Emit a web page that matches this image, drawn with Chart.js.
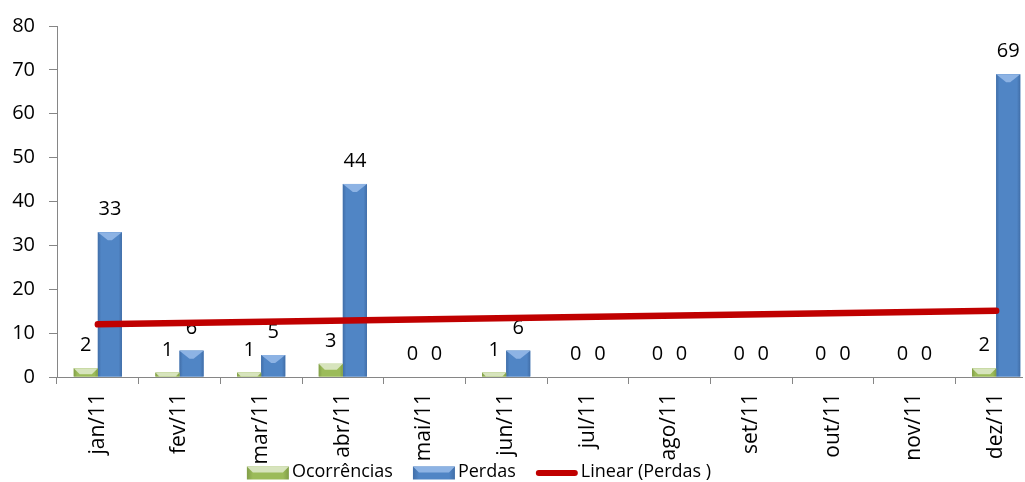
<!DOCTYPE html>
<html>
<head>
<meta charset="utf-8">
<script src="https://cdn.jsdelivr.net/npm/chart.js@4/dist/chart.umd.min.js"></script>
<style>
  html, body { margin: 0; padding: 0; background: #fff; overflow: hidden; }
  #wrap { width: 1023px; height: 482px; overflow: hidden; position: relative; }
</style>
</head>
<body>
<div id="wrap"><canvas id="c" width="1040" height="482"></canvas></div>
<script>
// Monthly occurrences and losses for 2011, with the linear trend of the losses
const months = ['jan/11', 'fev/11', 'mar/11', 'abr/11', 'mai/11', 'jun/11',
                'jul/11', 'ago/11', 'set/11', 'out/11', 'nov/11', 'dez/11'];
const ocorrencias = [2, 1, 1, 3, 0, 1, 0, 0, 0, 0, 0, 2];
const perdas = [33, 6, 5, 44, 0, 6, 0, 0, 0, 0, 0, 69];
// trend line end points (jan and dez)
const tendencia = [12.0, null, null, null, null, null, null, null, null, null, null, 15.1];
const yTicks = [0, 10, 20, 30, 40, 50, 60, 70, 80];

const FONT = "'Open Sans', 'DejaVu Sans', sans-serif";
const AXIS = '#868686';

// colours for the bevelled bar look
const shades = {
  'Ocorrências': { edge: '#819E48', face: '#9BBB59', light: '#D7E4BD', pointed: false },
  'Perdas':      { edge: '#416EA8', face: '#5085C5', light: '#8DB3E4', pointed: true }
};

function barFill(ctx, l, r, s) {
  const g = ctx.createLinearGradient(l, 0, r, 0);
  g.addColorStop(0, s.edge);
  g.addColorStop(0.14, s.face);
  g.addColorStop(0.86, s.face);
  g.addColorStop(1, s.edge);
  return g;
}

function drawBevel(ctx, l, r, top, base, s) {
  const h = base - top;
  if (h <= 0) return;
  const b = Math.min(s.pointed ? 8 : 6, h);
  ctx.fillStyle = s.light;
  ctx.beginPath();
  ctx.moveTo(l, top);
  ctx.lineTo(r, top);
  if (s.pointed) {
    ctx.lineTo((l + r) / 2 + 2, top + b);
    ctx.lineTo((l + r) / 2 - 2, top + b);
  } else {
    ctx.lineTo(r - b, top + b);
    ctx.lineTo(l + b, top + b);
  }
  ctx.closePath();
  ctx.fill();
}

// shading, bevel and value label for every bar
const bevelBars = {
  id: 'bevelBars',
  afterDatasetDraw(chart, args) {
    const ds = chart.data.datasets[args.index];
    const s = shades[ds.label];
    if (!s) return;
    const ctx = chart.ctx;
    ctx.save();
    args.meta.data.forEach((bar, i) => {
      const l = bar.x - bar.width / 2, r = bar.x + bar.width / 2;
      if (bar.base > bar.y) {
        ctx.fillStyle = barFill(ctx, l, r, s);
        ctx.fillRect(l, bar.y, r - l, bar.base - bar.y);
        drawBevel(ctx, l, r, bar.y, bar.base, s);
      }
      ctx.fillStyle = '#000';
      ctx.font = `20px ${FONT}`;
      ctx.textAlign = 'center';
      ctx.textBaseline = 'alphabetic';
      ctx.fillText(String(ds.data[i]), bar.x, bar.y - 17);
    });
    ctx.restore();
  }
};

// legend row under the month labels
const keyRow = {
  id: 'keyRow',
  afterDraw(chart) {
    const ctx = chart.ctx;
    ctx.save();
    ctx.font = `18px ${FONT}`;
    const sw = 42, gapText = 3, gapItem = 20, yc = 473;
    const items = chart.data.datasets.map(ds => ({ ds, w: sw + gapText + ctx.measureText(ds.label).width }));
    const total = items.reduce((a, it) => a + it.w, 0) + gapItem * (items.length - 1);
    let x = 479 - total / 2;
    items.forEach(it => {
      const ds = it.ds;
      const s = shades[ds.label];
      if (s) {
        ctx.fillStyle = barFill(ctx, x, x + sw, s);
        ctx.fillRect(x, yc - 6.5, sw, 13);
        drawBevel(ctx, x, x + sw, yc - 6.5, yc + 6.5, Object.assign({}, s, { pointed: false }));
      } else {
        ctx.strokeStyle = ds.borderColor;
        ctx.lineWidth = 6;
        ctx.lineCap = 'round';
        ctx.beginPath();
        ctx.moveTo(x + 3, yc);
        ctx.lineTo(x + sw - 3, yc);
        ctx.stroke();
      }
      ctx.fillStyle = '#000';
      ctx.textAlign = 'left';
      ctx.textBaseline = 'middle';
      ctx.fillText(ds.label, x + sw + gapText, yc - 1);
      x += it.w + gapItem;
    });
    ctx.restore();
  }
};

new Chart(document.getElementById('c'), {
  type: 'bar',
  data: {
    labels: months,
    datasets: [
      { label: 'Ocorrências', data: ocorrencias, backgroundColor: '#9BBB59', order: 1,
        categoryPercentage: 0.59, barPercentage: 1.0 },
      { label: 'Perdas', data: perdas, backgroundColor: '#5085C5', order: 1,
        categoryPercentage: 0.59, barPercentage: 1.0 },
      { type: 'line', label: 'Linear (Perdas )', data: tendencia, borderColor: '#C00000',
        backgroundColor: '#C00000', borderWidth: 6.5, borderCapStyle: 'round',
        pointRadius: 0, spanGaps: true, tension: 0, order: 0 }
    ]
  },
  options: {
    responsive: false,
    devicePixelRatio: 1,
    animation: false,
    layout: { padding: { top: 24, right: 3, left: 0, bottom: 0 } },
    plugins: { legend: { display: false }, tooltip: { enabled: false } },
    scales: {
      x: {
        offset: true,
        grid: { offset: true, drawOnChartArea: false, tickLength: 7, color: AXIS },
        border: { color: AXIS },
        ticks: { minRotation: 90, maxRotation: 90, autoSkip: false, padding: 9,
                 color: '#000', font: { family: FONT, size: 21 } },
        afterFit: s => { s.height = 105; }
      },
      y: {
        min: 0, max: 80,
        afterBuildTicks: s => { s.ticks = yTicks.map(v => ({ value: v })); },
        grid: { drawOnChartArea: false, tickLength: 8, color: AXIS },
        border: { color: AXIS },
        ticks: { padding: 14, color: '#000', font: { family: FONT, size: 20 } },
        afterFit: s => { s.width = 57; }
      }
    }
  },
  plugins: [bevelBars, keyRow]
});
</script>
</body>
</html>
